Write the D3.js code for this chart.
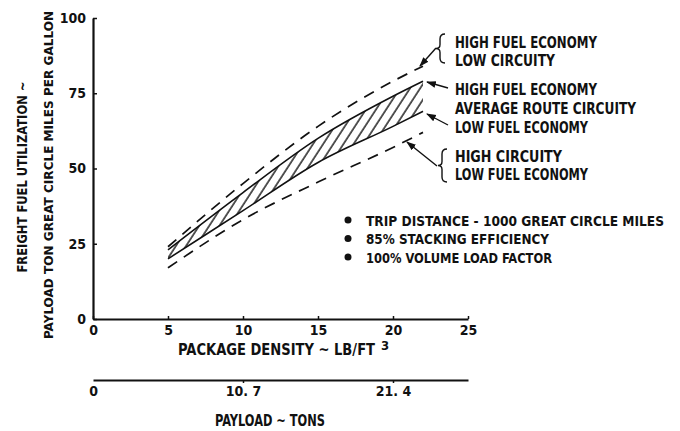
<!DOCTYPE html>
<html>
<head>
<meta charset="utf-8">
<script src="https://cdn.jsdelivr.net/npm/d3@7"></script>
<style>
  body { margin: 0; background: #fff; }
  svg text { font-family: "DejaVu Sans Condensed", "DejaVu Sans", sans-serif; font-weight: bold; fill: #111; }
  .axis path, .axis line { stroke: #111; }
  .axis text { font-size: 14px; }
</style>
</head>
<body>
<div class="chart"></div>
<script>
// values
var density = [5, 10, 15, 20, 22];
var highEconLowCircuity = [24, 45, 64, 79, 84];
var highEcon = [23, 42, 60, 74, 79];
var lowEcon = [20, 36, 52, 64, 69];
var highCircuityLowEcon = [17, 33, 45.5, 57, 62];

var densityTicks = [0, 5, 10, 15, 20, 25];
var yTicks = [0, 25, 50, 75, 100];
var payloadTicks = [0, 10.7, 21.4];

var notes = [
  "TRIP DISTANCE - 1000 GREAT CIRCLE MILES",
  "85% STACKING EFFICIENCY",
  "100% VOLUME LOAD FACTOR"
];
var noteWidths = [298, 183, 186];

var svgWidth = 680;
var svgHeight = 431;

var svg = d3.select(".chart")
  .append("svg")
  .attr("width", svgWidth)
  .attr("height", svgHeight);

var x = d3.scaleLinear().domain([0, 25]).range([93, 468]);
var y = d3.scaleLinear().domain([0, 100]).range([319, 18]);
// payload tons scale, 1.07 tons per lb/ft3
var xTons = d3.scaleLinear().domain([0, 25 * 1.07]).range([93, 468]);

// squeeze a text to the width it has in the original
function fit(sel, w) {
  sel.attr("textLength", w).attr("lengthAdjust", "spacingAndGlyphs");
}

// hatch pattern for the shaded band
var defs = svg.append("defs");
defs.append("pattern")
  .attr("id", "hatch")
  .attr("patternUnits", "userSpaceOnUse")
  .attr("width", 8.5)
  .attr("height", 8.5)
  .attr("patternTransform", "rotate(33)")
  .append("line")
  .attr("x1", 1).attr("y1", -1)
  .attr("x2", 1).attr("y2", 9.5)
  .attr("stroke", "#111")
  .attr("stroke-width", 1.4);

defs.append("marker")
  .attr("id", "arrow")
  .attr("viewBox", "0 0 10 10")
  .attr("refX", 9).attr("refY", 5)
  .attr("markerWidth", 7).attr("markerHeight", 7)
  .attr("orient", "auto")
  .append("path")
  .attr("d", "M0,1.5L10,5L0,8.5z")
  .attr("fill", "#111");

// axes
var yAxis = svg.append("g")
  .attr("class", "axis")
  .attr("transform", "translate(93,0)")
  .call(d3.axisLeft(y).tickValues(yTicks).tickSizeInner(-4).tickSizeOuter(0).tickPadding(7));

var xAxis = svg.append("g")
  .attr("class", "axis")
  .attr("transform", "translate(0,319)")
  .call(d3.axisBottom(x).tickValues(densityTicks).tickSizeInner(-3).tickSizeOuter(0).tickPadding(6));

var tonsAxis = svg.append("g")
  .attr("class", "axis")
  .attr("transform", "translate(0,380)")
  .call(d3.axisBottom(xTons).tickValues(payloadTicks).tickSize(3).tickSizeOuter(0).tickPadding(3)
    .tickFormat(d => d === 0 ? "0" : d3.format(".1f")(d).replace(".", ". ")));

svg.selectAll(".axis path.domain").attr("stroke-width", 2.2);
svg.selectAll(".axis .tick line").attr("stroke-width", 1.5);
svg.selectAll(".axis text").attr("font-size", 15);
tonsAxis.selectAll(".tick").filter(d => d === 0).select("line").remove();

// axis titles
var densityTitle = svg.append("g");
densityTitle.append("text")
  .attr("x", 178).attr("y", 355)
  .attr("font-size", 15)
  .text("PACKAGE DENSITY ~ LB/FT")
  .call(fit, 197);
densityTitle.append("text")
  .attr("x", 381).attr("y", 350)
  .attr("font-size", 13)
  .text("3");

svg.append("text")
  .attr("x", 270).attr("y", 426)
  .attr("text-anchor", "middle")
  .attr("font-size", 15)
  .text("PAYLOAD ~ TONS")
  .call(fit, 110);

svg.append("text")
  .attr("transform", "translate(27,177) rotate(-90)")
  .attr("text-anchor", "middle")
  .attr("font-size", 14)
  .text("FREIGHT FUEL UTILIZATION ~")
  .call(fit, 191);

svg.append("text")
  .attr("transform", "translate(53,175) rotate(-90)")
  .attr("text-anchor", "middle")
  .attr("font-size", 13)
  .text("PAYLOAD TON GREAT CIRCLE MILES PER GALLON")
  .call(fit, 328);

// curves
var pts = function(vals) { return density.map((d, i) => [d, vals[i]]); };

var line = d3.line()
  .x(d => x(d[0]))
  .y(d => y(d[1]))
  .curve(d3.curveMonotoneX);

var band = d3.area()
  .x(d => x(d[0]))
  .y0(d => y(d[2]))
  .y1(d => y(d[1]))
  .curve(d3.curveMonotoneX);

svg.append("path")
  .datum(density.map((d, i) => [d, highEcon[i], lowEcon[i]]))
  .attr("d", band)
  .attr("fill", "url(#hatch)");

[highEcon, lowEcon].forEach(function(vals) {
  svg.append("path")
    .datum(pts(vals))
    .attr("d", line)
    .attr("fill", "none")
    .attr("stroke", "#111")
    .attr("stroke-width", 1.6);
});

[highEconLowCircuity, highCircuityLowEcon].forEach(function(vals) {
  svg.append("path")
    .datum(pts(vals))
    .attr("d", line)
    .attr("fill", "none")
    .attr("stroke", "#111")
    .attr("stroke-width", 1.7)
    .attr("stroke-dasharray", "11,8");
});

// right side callouts
function brace(x0, yTop, yBot) {
  var m = (yTop + yBot) / 2;
  return "M" + (x0 + 5) + "," + yTop +
    " Q" + x0 + "," + yTop + " " + x0 + "," + (yTop + 5) +
    " L" + x0 + "," + (m - 4) +
    " Q" + x0 + "," + m + " " + (x0 - 4) + "," + m +
    " Q" + x0 + "," + m + " " + x0 + "," + (m + 4) +
    " L" + x0 + "," + (yBot - 5) +
    " Q" + x0 + "," + yBot + " " + (x0 + 5) + "," + yBot;
}

var callouts = svg.append("g");

callouts.append("path").attr("d", brace(440, 34, 63))
  .attr("fill", "none").attr("stroke", "#111").attr("stroke-width", 1.4);
callouts.append("path").attr("d", brace(442, 149, 182))
  .attr("fill", "none").attr("stroke", "#111").attr("stroke-width", 1.4);

var leaders = [
  [436, 48, 420, 66],
  [448, 88, 427, 82],
  [448, 125, 427, 114],
  [437, 166, 407, 142]
];
callouts.selectAll("line.leader")
  .data(leaders)
  .enter()
  .append("line")
  .attr("class", "leader")
  .attr("x1", d => d[0]).attr("y1", d => d[1])
  .attr("x2", d => d[2]).attr("y2", d => d[3])
  .attr("stroke", "#111")
  .attr("stroke-width", 1.4)
  .attr("marker-end", "url(#arrow)");

var calloutText = [
  ["HIGH FUEL ECONOMY", 455, 48, 142],
  ["LOW CIRCUITY", 455, 66, 100],
  ["HIGH FUEL ECONOMY", 455, 95, 142],
  ["AVERAGE ROUTE CIRCUITY", 455, 114, 181],
  ["LOW FUEL ECONOMY", 455, 133, 133],
  ["HIGH CIRCUITY", 455, 162, 107],
  ["LOW FUEL ECONOMY", 455, 180, 133]
];
callouts.selectAll("text")
  .data(calloutText)
  .enter()
  .append("text")
  .attr("x", d => d[1]).attr("y", d => d[2])
  .attr("font-size", 15)
  .attr("textLength", d => d[3])
  .attr("lengthAdjust", "spacingAndGlyphs")
  .text(d => d[0]);

// conditions list
var noteGroup = svg.append("g");
noteGroup.selectAll("circle")
  .data(notes)
  .enter()
  .append("circle")
  .attr("cx", 348)
  .attr("cy", (d, i) => 220 + i * 18.5)
  .attr("r", 3.5)
  .attr("fill", "#111");

noteGroup.selectAll("text")
  .data(notes)
  .enter()
  .append("text")
  .attr("x", 366)
  .attr("y", (d, i) => 225.5 + i * 18.5)
  .attr("font-size", 14)
  .attr("textLength", (d, i) => noteWidths[i])
  .attr("lengthAdjust", "spacingAndGlyphs")
  .text(d => d);
</script>
</body>
</html>
